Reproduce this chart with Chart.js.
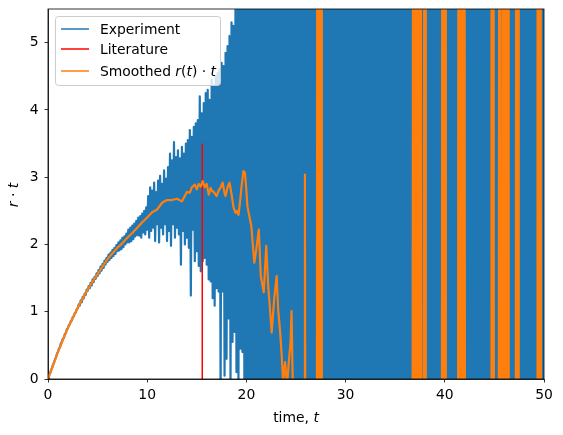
<!DOCTYPE html>
<html>
<head>
<meta charset="utf-8">
<script src="https://cdn.jsdelivr.net/npm/chart.js@4.4.1/dist/chart.umd.min.js"></script>
<style>
  html, body { margin: 0; padding: 0; background: #fff; }
  canvas { display: block; }
</style>
</head>
<body>
<canvas id="chart" width="563" height="435"></canvas>
<script>
// --- data ---

// Experiment: sampled every 0.1 time units, t = 0 .. 50
const expStep = 0.1;
const expValues = [
  0, 0.05, 0.08, 0.13, 0.16, 0.21, 0.24, 0.29, 0.32, 0.37, 0.4,
  0.45, 0.47, 0.53, 0.55, 0.6, 0.61, 0.67, 0.68, 0.74, 0.75,
  0.80, 0.81, 0.86, 0.87, 0.92, 0.93, 0.98, 0.99, 1.04, 1.05,
  1.11, 1.09, 1.17, 1.14, 1.22, 1.20, 1.27, 1.25, 1.33, 1.31,
  1.38, 1.35, 1.43, 1.39, 1.48, 1.44, 1.52, 1.49, 1.57, 1.53,
  1.62, 1.57, 1.67, 1.61, 1.71, 1.65, 1.76, 1.70, 1.80, 1.74,
  1.85, 1.77, 1.88, 1.80, 1.92, 1.83, 1.95, 1.86, 1.99, 1.90,
  2.03, 1.91, 2.06, 1.93, 2.10, 1.96, 2.12, 2.00, 2.16, 2.03,
  2.22, 2.03, 2.25, 2.05, 2.28, 2.08, 2.31, 2.12, 2.35, 2.14,
  2.40, 2.13, 2.42, 2.10, 2.46, 2.18, 2.50, 2.15, 2.55, 2.22,
  2.72, 2.10, 2.85, 2.20, 2.80, 2.25, 2.92, 2.05, 2.78, 2.30,
  2.95, 2.03, 3.02, 2.25, 2.90, 2.15, 3.10, 2.30, 2.98, 2.05,
  3.15, 2.20, 3.35, 1.98, 3.25, 2.30, 3.52, 2.10, 3.30, 2.25,
  3.40, 2.15, 3.28, 1.70, 3.45, 2.20, 3.35, 2.00, 3.50, 2.10,
  3.55, 1.95, 3.70, 1.24, 3.60, 2.22, 3.75, 1.75, 3.80, 1.90,
  3.85, 1.68, 4.20, 1.60, 3.95, 1.75, 4.10, 1.80, 4.25, 1.70,
  4.30, 1.48, 4.15, 1.45, 4.45, 1.20, 4.35, 1.09, 4.50, 1.35,
  4.55, 1.30, 4.60, -0.20, 4.70, 1.30, 4.65, 0.05, 4.85, 0.30,
  4.95, 0.90, 5.10, -0.10, 5.30, 0.55, 5.25, 0.70, 5.60, 0.10,
  5.80, -0.20, 6.00, 0.45, 5.90, 0.40, 6.50, -0.30, 7.00, -1.00,
  // t > 20: the signal blows up and fills the whole window
  8.4, -2.1, 7.9, -3.5, 9.2, -1.8, 6.6, -4.2, 10.1, -2.7,
  7.3, -3.9, 11.4, -1.6, 8.8, -5.1, 6.9, -2.4, 9.7, -3.3,
  12.2, -4.6, 7.5, -2.2, 10.6, -6.3, 8.1, -1.9, 9.4, -3.8,
  6.8, -5.4, 11.9, -2.9, 7.7, -4.1, 13.5, -2.5, 8.6, -6.7,
  9.9, -3.1, 7.2, -5.8, 12.7, -2.3, 8.3, -4.4, 10.9, -1.7,
  7.6, -6.1, 9.3, -3.6, 14.2, -2.8, 6.4, -5.2, 11.1, -3.4,
  8.9, -4.7, 12.5, -2.0, 7.4, -6.6, 10.3, -3.0, 9.1, -5.5,
  13.1, -2.6, 8.0, -4.9, 11.7, -3.7, 6.7, -7.2, 9.6, -2.4,
  10.4, -5.9, 7.8, -3.2, 12.9, -4.3, 8.5, -2.1, 14.6, -6.0,
  7.1, -3.5, 11.3, -5.0, 9.0, -2.7, 13.8, -4.8, 8.2, -3.9,
  10.8, -6.4, 7.3, -2.3, 12.1, -4.0, 9.5, -5.7, 6.9, -3.1,
  13.4, -2.9, 8.7, -6.9, 11.0, -3.4, 7.6, -4.6, 10.2, -2.2,
  9.8, -5.3, 14.0, -3.0, 7.9, -4.5, 12.3, -6.2, 8.4, -2.6,
  11.6, -3.8, 7.0, -5.6, 10.7, -2.5, 13.2, -4.2, 8.8, -7.0,
  9.3, -3.3, 12.6, -4.9, 7.5, -2.8, 11.4, -6.1, 8.1, -3.6,
  14.4, -2.4, 9.7, -5.2, 7.2, -3.9, 10.9, -4.4, 12.0, -2.0,
  8.3, -6.5, 11.8, -3.1, 7.7, -4.7, 13.0, -2.7, 9.2, -5.4,
  10.5, -3.5, 8.6, -6.0, 12.4, -2.3, 7.4, -4.1, 11.2, -3.7,
  9.0, -5.8, 13.6, -2.9, 8.2, -4.3, 10.0, -6.8, 7.8, -3.2,
  12.8, -4.6, 9.4, -2.5, 11.5, -5.5, 7.1, -3.8, 14.1, -2.1,
  8.7, -6.3, 10.6, -3.4, 7.6, -4.8, 12.2, -2.6, 9.9, -5.1,
  11.9, -3.0, 8.1, -6.7, 13.3, -4.0, 7.3, -2.8, 10.4, -5.9,
  9.6, -3.6, 12.7, -2.2, 8.5, -5.3, 11.0, -4.5, 7.9, -6.2,
  14.3, -2.7, 9.1, -3.9, 10.8, -6.6, 7.5, -3.3, 12.5, -4.7,
  8.0, -5.0, 11.3, -2.4, 9.8, -6.0, 13.7, -3.1, 7.2, -4.2,
  10.1, -5.6, 12.9, -2.9, 8.4, -3.5, 11.6, -6.4, 9.3, -2.3,
  7.7, -4.9, 13.9, -3.7, 10.2, -5.2, 8.6, -2.5, 12.0, -6.9,
  9.5, -3.2, 11.1, -4.4, 7.0, -5.7, 14.5, -2.0, 8.9, -3.9,
  12.3, -6.1, 9.7, -2.6, 10.9, -4.6, 7.8, -3.4, 13.1, -5.3,
  8.3, -2.8, 11.7, -6.6, 9.1, -3.6, 12.6, -4.1, 7.6, -2.2
];

// Literature: one vertical line
const litT = [15.55, 15.55];
const litY = [0, 3.5];

// Smoothed r(t)·t
const smoothT = [
  0, 0.5, 1, 1.5, 2, 2.5, 3, 3.5, 4, 4.5, 5, 5.5, 6, 6.5, 7, 7.5, 8, 8.5, 9, 9.5,
  10, 10.5, 11, 11.5, 12, 12.5, 13, 13.5, 14,
  14.3, 14.5, 14.8, 15.0, 15.2, 15.4, 15.6, 15.8, 16.0, 16.2, 16.4, 16.5, 16.7,
  17.0, 17.2, 17.4, 17.6, 17.8, 17.9, 18.1, 18.3, 18.5, 18.7, 18.9, 19.0, 19.2,
  19.35, 19.5, 19.7, 19.85, 20.0, 20.1, 20.3, 20.5, 20.7, 20.8, 21.0, 21.25, 21.45,
  21.75, 22.0, 22.2, 22.4, 22.55, 22.8, 23.05, 23.2, 23.4, 23.56, 23.7, 23.9, 24.1,
  24.3, 24.45, 24.55, 24.7, 24.8,
  25.85, 25.9, 25.95,
  27.1, 27.15, 27.2, 27.25, 27.3, 27.35, 27.4, 27.45, 27.5, 27.55, 27.6,
  36.75, 36.8, 36.85, 36.9, 36.95, 37.0, 37.05, 37.1, 37.15, 37.2, 37.25, 37.3,
  37.35, 37.4, 37.45, 37.5, 37.55, 37.6, 37.65,
  37.88, 37.93, 37.98, 38.03, 38.08,
  39.7, 39.75, 39.8, 39.85, 39.9, 39.95, 40.0, 40.05, 40.1,
  41.33, 41.38, 41.43, 41.48, 41.53, 41.58, 41.63,
  41.8, 41.86, 41.92, 41.98, 42.04,
  44.66, 44.71, 44.76, 44.81, 44.86, 44.91, 44.96,
  45.43, 45.49, 45.55, 45.61, 45.67,
  45.84, 45.89, 45.94, 45.99, 46.04, 46.09, 46.14, 46.19, 46.24, 46.29, 46.34, 46.39, 46.44,
  47.15, 47.2, 47.25, 47.3, 47.35, 47.4, 47.45,
  49.3, 49.35, 49.4, 49.45, 49.5, 49.55, 49.6, 49.65, 49.7,
  50
];
const smoothY = [
  0, 0.2, 0.4, 0.58, 0.76, 0.91, 1.06, 1.2, 1.33, 1.45, 1.56, 1.67, 1.78, 1.87, 1.95, 2.02, 2.1, 2.17, 2.25, 2.33,
  2.4, 2.48, 2.52, 2.62, 2.66, 2.66, 2.68, 2.64, 2.78,
  2.77, 2.85, 2.89, 2.82, 2.9, 2.86, 2.94, 2.85, 2.9, 2.74, 2.84, 2.8, 2.78,
  2.72, 2.8, 2.85, 2.92, 2.76, 2.72, 2.85, 2.92, 2.75, 2.55, 2.47, 2.5, 2.44,
  2.62, 2.85, 3.09, 3.07, 2.8, 2.57, 2.42, 2.27, 1.9, 1.73, 1.93, 2.22, 1.53,
  1.29, 1.98, 1.38, 1.0, 0.69, 1.19, 1.53, 1.04, 0.7, 0.35, -0.05, 0.25, -0.1,
  0.3, 0.54, 1.01, -0.3, -3,
  -3, 3.04, -3,
  -3, 9, -3, 9, -3, 9, -3, 9, -3, 9, -3,
  -3, 9, -3, 9, -3, 9, -3, 9, -3, 9, -3, 9,
  -3, 9, -3, 9, -3, 9, -3,
  -3, 9, -3, 9, -3,
  -3, 9, -3, 9, -3, 9, -3, 9, -3,
  -3, 9, -3, 9, -3, 9, -3,
  -3, 9, -3, 9, -3,
  -3, 9, -3, 9, -3, 9, -3,
  -3, 9, -3, 9, -3,
  -3, 9, -3, 9, -3, 9, -3, 9, -3, 9, -3, 9, -3,
  -3, 9, -3, 9, -3, 9, -3,
  -3, 9, -3, 9, -3, 9, -3, 9, -3,
  -3
];

const xTicks = [0, 10, 20, 30, 40, 50];
const yTicks = [0, 1, 2, 3, 4, 5];

const FONT = '"DejaVu Sans", sans-serif';
const FS = 13.9;

// рисуем текст кусками: обычный + курсив (как mathtext)
function drawRuns(ctx, runs, x, y, align) {
    let total = 0;
    runs.forEach(r => {
        ctx.font = (r.it ? 'italic ' : '') + FS + 'px ' + FONT;
        total += ctx.measureText(r.t).width;
    });
    let cx = align === 'center' ? x - total / 2 : x;
    runs.forEach(r => {
        ctx.font = (r.it ? 'italic ' : '') + FS + 'px ' + FONT;
        ctx.fillText(r.t, cx, y);
        cx += ctx.measureText(r.t).width;
    });
}

const frameAndLabels = {
    id: 'frameAndLabels',
    afterDraw(chart) {
        const ctx = chart.ctx;
        const a = chart.chartArea;
        ctx.save();
        // рамка осей
        ctx.strokeStyle = '#000';
        ctx.lineWidth = 0.8;
        ctx.strokeRect(a.left, a.top, a.right - a.left, a.bottom - a.top);

        ctx.fillStyle = '#000';
        ctx.textBaseline = 'alphabetic';
        // подпись оси X
        drawRuns(ctx, [{ t: 'time, ' }, { t: 't', it: true }], (a.left + a.right) / 2, 421.5, 'center');
        // подпись оси Y
        ctx.save();
        ctx.translate(17.5, (a.top + a.bottom) / 2 + 1);
        ctx.rotate(-Math.PI / 2);
        drawRuns(ctx, [{ t: 'r', it: true }, { t: ' · ' }, { t: 't', it: true }], 0, 0, 'center');
        ctx.restore();

        // легенда
        const lx = 55.5, ly = 16.5, lw = 165, lh = 69;
        ctx.beginPath();
        ctx.roundRect(lx, ly, lw, lh, 3);
        ctx.fillStyle = 'rgba(255,255,255,0.8)';
        ctx.fill();
        ctx.strokeStyle = '#cccccc';
        ctx.lineWidth = 1;
        ctx.stroke();

        const items = [
            { color: '#1f77b4', y: 29, base: 33.8, runs: [{ t: 'Experiment' }] },
            { color: '#ff0000', y: 49, base: 53.8, runs: [{ t: 'Literature' }] },
            { color: '#ff7f0e', y: 71, base: 75.8, runs: [{ t: 'Smoothed ' }, { t: 'r', it: true }, { t: '(' }, { t: 't', it: true }, { t: ')' }, { t: ' · ' }, { t: 't', it: true }] }
        ];
        items.forEach(it => {
            ctx.beginPath();
            ctx.moveTo(61, it.y);
            ctx.lineTo(89, it.y);
            ctx.strokeStyle = it.color;
            ctx.lineWidth = 1.5;
            ctx.stroke();
            ctx.fillStyle = '#000';
            drawRuns(ctx, it.runs, 100, it.base, 'left');
        });
        ctx.restore();
    }
};

const expData = expValues.map((v, i) => ({ x: +(i * expStep).toFixed(2), y: v }));
const litData = litT.map((t, i) => ({ x: t, y: litY[i] }));
const smoothData = smoothT.map((t, i) => ({ x: t, y: smoothY[i] }));

const tickFont = { family: FONT, size: FS };

// без автоматических отступов под подписи — рамка задаётся layout.padding
function noScalePadding(s) {
    s.paddingTop = 0; s.paddingBottom = 0; s.paddingLeft = 0; s.paddingRight = 0;
}

new Chart(document.getElementById('chart'), {
    type: 'line',
    data: {
        datasets: [
            { label: 'Smoothed r(t)·t', data: smoothData, borderColor: '#ff7f0e', borderWidth: 2.2, pointRadius: 0, order: 1, clip: 0 },
            { label: 'Literature', data: litData, borderColor: '#ff0000', borderWidth: 1.5, pointRadius: 0, order: 2, clip: 0 },
            { label: 'Experiment', data: expData, borderColor: '#1f77b4', borderWidth: 2.2, pointRadius: 0, order: 3, clip: 0 }
        ]
    },
    options: {
        responsive: false,
        animation: false,
        events: [],
        layout: { padding: { left: 0, right: 19, top: 9, bottom: 0 } },
        elements: { line: { tension: 0, borderJoinStyle: 'round' } },
        plugins: { legend: { display: false }, tooltip: { enabled: false } },
        scales: {
            x: {
                type: 'linear', min: 0, max: 50,
                afterBuildTicks: s => { s.ticks = xTicks.map(v => ({ value: v })); },
                afterFit: s => { s.height = 56; noScalePadding(s); },
                ticks: { color: '#000', font: tickFont, padding: 4.5, maxRotation: 0 },
                grid: { drawOnChartArea: false, drawTicks: true, tickLength: 3.5, tickWidth: 0.8, tickColor: '#000' },
                border: { display: true, color: '#000', width: 0.8 }
            },
            y: {
                type: 'linear', min: 0, max: 5.5,
                afterBuildTicks: s => { s.ticks = yTicks.map(v => ({ value: v })); },
                afterFit: s => { s.width = 48; noScalePadding(s); },
                ticks: { color: '#000', font: tickFont, padding: 6 },
                grid: { drawOnChartArea: false, drawTicks: true, tickLength: 3.5, tickWidth: 0.8, tickColor: '#000' },
                border: { display: true, color: '#000', width: 0.8 }
            }
        }
    },
    plugins: [frameAndLabels]
});
</script>
</body>
</html>
